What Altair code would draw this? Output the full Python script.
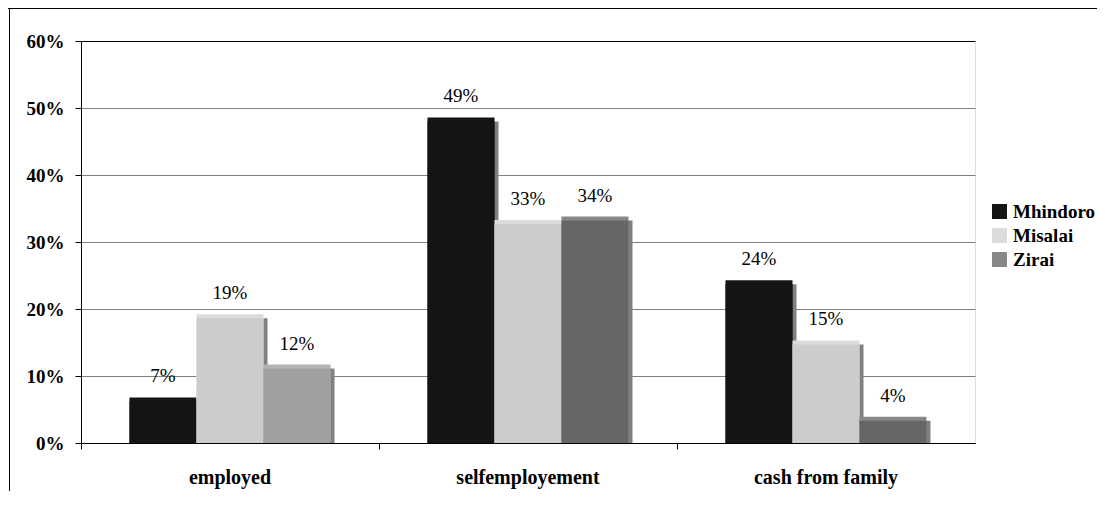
import altair as alt
import pandas as pd

categories = ["employed", "selfemployement", "cash from family"]
series = ["Mhindoro", "Misalai", "Zirai"]
mhindoro = [0.068, 0.486, 0.243]
misalai = [0.192, 0.333, 0.153]
zirai = [0.117, 0.338, 0.039]
y_ticks = [0, 0.1, 0.2, 0.3, 0.4, 0.5, 0.6]

top_colors = ["#141414", "#dcdcdc", "#888888"]
front_colors = ["#141414", "#cccccc", "#666666"]
side_color = "#808080"

rows = []
for s, vals in zip(series, [mhindoro, misalai, zirai]):
    for c, v in zip(categories, vals):
        rows.append({"category": c, "series": s, "value": v})
df = pd.DataFrame(rows)

FONT = "Liberation Serif"
BAR_W = 67
DEPTH = 4
special = "datum.category == 'employed' && datum.series == 'Zirai'"

x_enc = alt.X(
    "category:N", sort=categories,
    scale=alt.Scale(paddingInner=0, paddingOuter=0),
    axis=alt.Axis(title=None, labelFont=FONT, labelFontSize=20, labelFontWeight="bold",
                  labelColor="black", labelAngle=0, bandPosition=0, tickSize=6,
                  tickColor="black", domainColor="black", labelPadding=34,
                  labelBaseline="alphabetic", grid=False),
)
y_enc = alt.Y(
    "value:Q", stack=None,
    scale=alt.Scale(domain=[0, 0.6], nice=False),
    axis=alt.Axis(title=None, values=y_ticks, format=".0%", labelFont=FONT, labelFontSize=19,
                  labelFontWeight="bold", labelColor="black", tickSize=6, tickColor="black",
                  domainColor="black", grid=True,
                  gridColor=alt.condition("datum.value >= 0.6 || datum.value <= 0",
                                          alt.value("black"), alt.value("#808080")),
                  labelPadding=11),
)

layers = []
for i, s in enumerate(series):
    off = (i - 1) * BAR_W
    base = alt.Chart(df).transform_filter(alt.datum.series == s)
    side = base.mark_bar(width=BAR_W, xOffset=off + DEPTH, yOffset=DEPTH, color=side_color).encode(
        x=x_enc, y=y_enc)
    top = base.mark_bar(width=BAR_W, xOffset=off).encode(
        x=x_enc, y=y_enc,
        color=alt.condition(
            special, alt.value("#b4b4b4"),
            alt.Color("series:N", scale=alt.Scale(domain=series, range=top_colors),
                      legend=alt.Legend(title=None, orient="none", legendX=909, legendY=161,
                                        labelFont=FONT, labelFontSize=19, labelFontWeight="bold",
                                        labelColor="black", symbolType="square", symbolSize=225,
                                        symbolStrokeWidth=0, labelOffset=4, rowPadding=4))))
    front = base.mark_bar(width=BAR_W, xOffset=off, yOffset=DEPTH).encode(
        x=x_enc, y=y_enc,
        color=alt.condition(special, alt.value("#a0a0a0"), alt.value(front_colors[i])))
    layers += [side, top, front]

for i, s in enumerate(series):
    off = (i - 1) * BAR_W
    txt = alt.Chart(df).transform_filter(alt.datum.series == s).mark_text(
        dx=off, dy=-15, baseline="alphabetic", font=FONT, fontSize=19, color="black").encode(
        x=x_enc, y=y_enc, text=alt.Text("value:Q", format=".0%"))
    layers.append(txt)

one = pd.DataFrame({"k": [0]})
frame_top = alt.Chart(one).mark_rule(color="black", strokeWidth=1).encode(
    x=alt.value(-73), x2=alt.value(1100), y=alt.value(-32.5))
frame_left = alt.Chart(one).mark_rule(color="black", strokeWidth=1).encode(
    x=alt.value(-71.5), y=alt.value(-33), y2=alt.value(500))
layers += [frame_top, frame_left]

chart = alt.layer(*layers).properties(
    width=894, height=402,
    padding={"left": 73, "top": 33, "right": 122, "bottom": 48},
    autosize=alt.AutoSizeParams(type="none"),
).configure_view(stroke="black", strokeWidth=1).configure(background="white")

chart.save("out.html", embed_options={"renderer": "svg", "actions": False})
